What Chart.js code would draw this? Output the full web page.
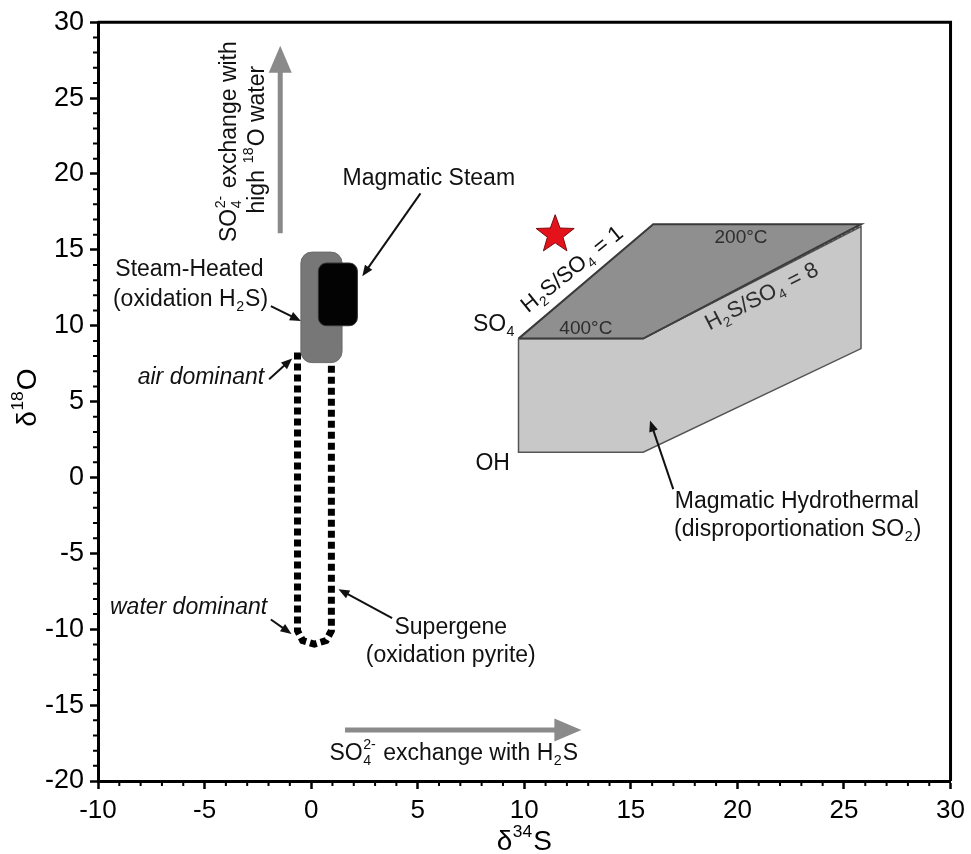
<!DOCTYPE html>
<html lang="en">
<head>
  <meta charset="UTF-8">
  <title>Sulfate isotope diagram</title>
  <script src="https://cdn.jsdelivr.net/npm/chart.js@4.4.0/dist/chart.umd.min.js"></script>
  <style>
    html, body { margin: 0; padding: 0; background: #fff; }
    #wrap { width: 971px; height: 854px; }
  </style>
</head>
<body>
  <div id="wrap"><canvas id="chart"></canvas></div>

  <script>
    // axis ranges (delta34S, delta18O)
    var xRange = [-10, 30];
    var yRange = [-20, 30];
    var tickStep = 5;

    // magmatic hydrothermal prism, [d34S, d18O]
    var prismTop = [[9.73, 9.15], [16.05, 16.69], [25.8, 16.69], [15.58, 9.15], [9.73, 9.15]];
    var prismSide = [[9.73, 9.15], [15.58, 9.15], [25.8, 16.54], [25.8, 8.49], [15.58, 1.67], [9.73, 1.67], [9.73, 9.15]];
    var prismEdge = [[15.58, 9.15], [25.8, 16.6]];

    // supergene field (dashed U)
    var supergene = [[-0.64, 8.23], [-0.64, -10.1], [-0.4, -10.75], [0.15, -10.98], [0.7, -10.75], [0.95, -10.1], [0.95, 7.46]];

    // boxes: [xmin, xmax, ymin, ymax]
    var steamHeated = [-0.48, 1.45, 7.57, 14.85];
    var magmaticSteam = [0.34, 2.17, 10.0, 14.13];

    // sample (red star)
    var sample = [11.45, 16.0];

    // exchange trends
    var o18Trend = [[-1.45, 16.1], [-1.45, 28.45]];
    var s34Trend = [[1.59, -16.64], [12.68, -16.64]];

    // leader arrows [from, to]
    var pointers = [
      [[5.13, 18.72], [2.40, 13.26]],
      [[-1.89, 11.29], [-0.48, 10.31]],
      [[-1.97, 6.48], [-0.89, 7.84]],
      [[-1.89, -9.36], [-0.92, -10.31]],
      [[3.80, -9.26], [1.28, -7.36]],
      [[16.99, -0.77], [15.90, 3.75]]
    ];

    // labels
    var labels = [
      { parts: ['SO', { sub: '4', sup: '2-' }, ' exchange with'], at: [-3.83, 22.13], rot: -90 },
      { parts: ['high ', { sup: '18' }, 'O water'], at: [-2.53, 22.26], rot: -90 },
      { parts: ['Magmatic Steam'], at: [5.52, 19.7] },
      { parts: ['Steam-Heated'], at: [-5.71, 13.67] },
      { parts: ['(oxidation H', { sub: '2' }, 'S)'], at: [-5.66, 11.70] },
      { parts: ['air dominant'], at: [-2.20, 6.59], align: 'right', style: 'italic' },
      { parts: ['water dominant'], at: [-2.06, -8.60], align: 'right', style: 'italic' },
      { parts: ['Supergene'], at: [6.55, -9.91] },
      { parts: ['(oxidation pyrite)'], at: [6.55, -11.77] },
      { parts: ['Magmatic Hydrothermal'], at: [22.79, -1.61] },
      { parts: ['(disproportionation SO', { sub: '2' }, ')'], at: [22.83, -3.44] },
      { parts: ['SO', { sub: '4' }], at: [9.59, 10.09], align: 'right' },
      { parts: ['OH'], at: [8.52, 0.90] },
      { parts: ['400°C'], at: [12.89, 9.80], size: 19, color: '#2e2e2e' },
      { parts: ['200°C'], at: [20.17, 15.77], size: 19, color: '#2e2e2e' },
      { parts: ['H', { sub: '2' }, 'S/SO', { sub: '4' }, ' = 1'], at: [12.26, 13.69], rot: -39, size: 22 },
      { parts: ['H', { sub: '2' }, 'S/SO', { sub: '4' }, ' = 8'], at: [21.15, 11.90], rot: -27, size: 22, color: '#2e2e2e' },
      { parts: ['SO', { sub: '4', sup: '2-' }, ' exchange with H', { sub: '2' }, 'S'], at: [6.69, -18.20] }
    ];

    var FONT = '"Liberation Sans", Arial, sans-serif';

    function pts(list) {
      return list.map(function (p) { return { x: p[0], y: p[1] }; });
    }

    function drawRich(ctx, parts, x, y, opt) {
      var size = opt.size || 23;
      var small = size * 0.62;
      var style = opt.style || '';
      var font = function (s) { return style + ' ' + s + 'px ' + FONT; };
      ctx.textBaseline = 'middle';
      ctx.textAlign = 'left';
      var widths = [], w = 0;
      parts.forEach(function (p) {
        var pw;
        if (typeof p === 'string') {
          ctx.font = font(size);
          pw = ctx.measureText(p).width;
        } else {
          ctx.font = font(small);
          pw = Math.max(p.sub ? ctx.measureText(p.sub).width : 0, p.sup ? ctx.measureText(p.sup).width : 0) + 1.5;
        }
        widths.push(pw);
        w += pw;
      });
      var cx = opt.align === 'right' ? x - w : (opt.align === 'left' ? x : x - w / 2);
      ctx.fillStyle = opt.color || '#111';
      parts.forEach(function (p, i) {
        if (typeof p === 'string') {
          ctx.font = font(size);
          ctx.fillText(p, cx, y);
        } else {
          ctx.font = font(small);
          if (p.sub) ctx.fillText(p.sub, cx + 0.5, y + size * 0.33);
          if (p.sup) ctx.fillText(p.sup, cx + 0.5, y - size * 0.36);
        }
        cx += widths[i];
      });
    }

    function arrowHead(ctx, x0, y0, x1, y1, len, half) {
      var a = Math.atan2(y1 - y0, x1 - x0);
      ctx.beginPath();
      ctx.moveTo(x1, y1);
      ctx.lineTo(x1 - len * Math.cos(a) + half * Math.sin(a), y1 - len * Math.sin(a) - half * Math.cos(a));
      ctx.lineTo(x1 - len * Math.cos(a) - half * Math.sin(a), y1 - len * Math.sin(a) + half * Math.cos(a));
      ctx.closePath();
      ctx.fill();
    }

    function roundBox(ctx, b, sx, sy, r) {
      var x0 = sx.getPixelForValue(b[0]), x1 = sx.getPixelForValue(b[1]);
      var y0 = sy.getPixelForValue(b[3]), y1 = sy.getPixelForValue(b[2]);
      ctx.beginPath();
      ctx.roundRect(x0, y0, x1 - x0, y1 - y0, r);
    }

    var overlay = {
      id: 'overlay',
      afterDatasetsDraw: function (chart) {
        var ctx = chart.ctx, sx = chart.scales.x, sy = chart.scales.y;
        var X = function (v) { return sx.getPixelForValue(v); };
        var Y = function (v) { return sy.getPixelForValue(v); };
        ctx.save();

        // steam-heated and magmatic steam boxes
        roundBox(ctx, steamHeated, sx, sy, 11);
        ctx.fillStyle = '#777';
        ctx.fill();
        ctx.strokeStyle = '#6a6a6a';
        ctx.lineWidth = 1;
        ctx.stroke();
        roundBox(ctx, magmaticSteam, sx, sy, 8);
        ctx.fillStyle = '#030303';
        ctx.fill();
        ctx.strokeStyle = '#333';
        ctx.stroke();

        // grey exchange arrows
        ctx.strokeStyle = '#8a8a8a';
        ctx.fillStyle = '#8a8a8a';
        ctx.lineWidth = 5;
        [o18Trend, s34Trend].forEach(function (t) {
          var x0 = X(t[0][0]), y0 = Y(t[0][1]), x1 = X(t[1][0]), y1 = Y(t[1][1]);
          var a = Math.atan2(y1 - y0, x1 - x0);
          ctx.beginPath();
          ctx.moveTo(x0, y0);
          ctx.lineTo(x1 - 24 * Math.cos(a), y1 - 24 * Math.sin(a));
          ctx.stroke();
          arrowHead(ctx, x0, y0, x1, y1, 27, 11.5);
        });

        // leader arrows
        ctx.strokeStyle = '#111';
        ctx.fillStyle = '#111';
        ctx.lineWidth = 2;
        pointers.forEach(function (p) {
          var x0 = X(p[0][0]), y0 = Y(p[0][1]), x1 = X(p[1][0]), y1 = Y(p[1][1]);
          var a = Math.atan2(y1 - y0, x1 - x0);
          ctx.beginPath();
          ctx.moveTo(x0, y0);
          ctx.lineTo(x1 - 8 * Math.cos(a), y1 - 8 * Math.sin(a));
          ctx.stroke();
          arrowHead(ctx, x0, y0, x1, y1, 11, 4.5);
        });

        // red star
        var cx = X(sample[0]), cy = Y(sample[1]), R = 20, r = 8.2;
        ctx.beginPath();
        for (var i = 0; i < 10; i++) {
          var ang = -Math.PI / 2 + i * Math.PI / 5;
          var rr = i % 2 === 0 ? R : r;
          ctx.lineTo(cx + rr * Math.cos(ang), cy + rr * Math.sin(ang));
        }
        ctx.closePath();
        ctx.fillStyle = '#e3121b';
        ctx.fill();
        ctx.strokeStyle = '#7a0a0e';
        ctx.lineWidth = 1;
        ctx.stroke();

        // text labels
        labels.forEach(function (l) {
          var lx = X(l.at[0]), ly = Y(l.at[1]);
          ctx.save();
          ctx.translate(lx, ly);
          if (l.rot) ctx.rotate(l.rot * Math.PI / 180);
          drawRich(ctx, l.parts, 0, 0, l);
          ctx.restore();
        });
        ctx.restore();
      },
      afterDraw: function (chart) {
        var ctx = chart.ctx, a = chart.chartArea, sx = chart.scales.x, sy = chart.scales.y;
        ctx.save();
        // frame top/right
        ctx.strokeStyle = '#000';
        ctx.lineWidth = 3;
        ctx.beginPath();
        ctx.moveTo(a.left, a.top);
        ctx.lineTo(a.right, a.top);
        ctx.lineTo(a.right, a.bottom);
        ctx.stroke();
        // minor ticks
        ctx.lineWidth = 2;
        ctx.beginPath();
        for (var v = xRange[0]; v <= xRange[1]; v++) {
          if (v % tickStep === 0) continue;
          var px = sx.getPixelForValue(v);
          ctx.moveTo(px, a.bottom);
          ctx.lineTo(px, a.bottom + 5);
        }
        for (var w = yRange[0]; w <= yRange[1]; w++) {
          if (w % tickStep === 0) continue;
          var py = sy.getPixelForValue(w);
          ctx.moveTo(a.left, py);
          ctx.lineTo(a.left - 5, py);
        }
        ctx.stroke();
        // axis titles
        drawRich(ctx, ['δ', { sup: '34' }, 'S'], (a.left + a.right) / 2, a.bottom + 61, { size: 28, color: '#000' });
        ctx.translate(28, (a.top + a.bottom) / 2 - 4);
        ctx.rotate(-Math.PI / 2);
        drawRich(ctx, ['δ', { sup: '18' }, 'O'], 0, 0, { size: 28, color: '#000' });
        ctx.restore();
      }
    };

    var axisCommon = {
      type: 'linear',
      border: { display: true, color: '#000', width: 3 },
      grid: { drawOnChartArea: false, drawTicks: true, tickLength: 8, tickWidth: 2.5, tickColor: '#000' }
    };

    var ctx = document.getElementById('chart');
    new Chart(ctx, {
      type: 'line',
      data: {
        datasets: [
          {
            label: 'Supergene',
            data: pts(supergene),
            borderColor: '#000',
            borderWidth: 7,
            borderDash: [7, 4],
            borderCapStyle: 'butt',
            pointRadius: 0,
            fill: false,
            order: 0
          },
          {
            label: 'H2S/SO4 = 8',
            data: pts(prismEdge),
            borderColor: '#444',
            borderWidth: 1.2,
            borderDash: [3, 2],
            pointRadius: 0,
            fill: false,
            order: 1
          },
          {
            label: 'Top',
            data: pts(prismTop),
            borderColor: '#3a3a3a',
            backgroundColor: '#8f8f8f',
            borderWidth: 2,
            pointRadius: 0,
            fill: 'shape',
            order: 2
          },
          {
            label: 'Side',
            data: pts(prismSide),
            borderColor: '#555',
            backgroundColor: '#c8c8c8',
            borderWidth: 1.5,
            pointRadius: 0,
            fill: 'shape',
            order: 3
          }
        ]
      },
      options: {
        responsive: true,
        maintainAspectRatio: false,
        animation: false,
        layout: { padding: { top: 18, right: 18, left: 0, bottom: 0 } },
        plugins: { legend: { display: false }, tooltip: { enabled: false } },
        scales: {
          x: Object.assign({}, axisCommon, {
            min: xRange[0], max: xRange[1],
            ticks: { stepSize: tickStep, color: '#000', padding: 6, font: { family: FONT, size: 26 } },
            afterFit: function (s) { s.height = 73; }
          }),
          y: Object.assign({}, axisCommon, {
            min: yRange[0], max: yRange[1],
            ticks: { stepSize: tickStep, color: '#000', padding: 6, font: { family: FONT, size: 27 } },
            afterFit: function (s) { s.width = 98; }
          })
        }
      },
      plugins: [overlay]
    });
  </script>
</body>
</html>
